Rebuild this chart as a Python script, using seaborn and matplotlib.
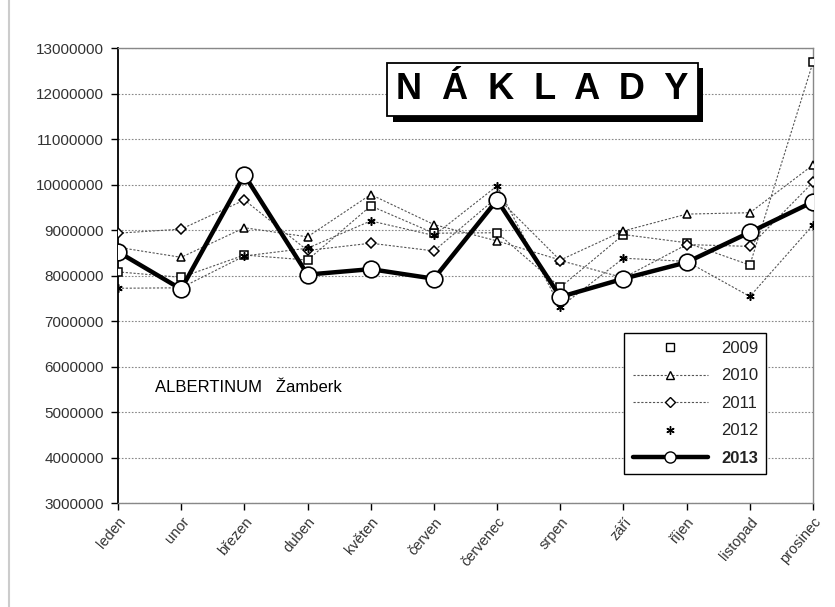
import numpy as np
import pandas as pd
import seaborn as sns
import matplotlib.pyplot as plt
import matplotlib.patheffects as pe
from matplotlib.lines import Line2D

# data
months = ["leden", "unor", "březen", "duben", "květen", "červen",
          "červenec", "srpen", "září", "říjen", "listopad", "prosinec"]
costs_2009 = [8080000, 7960000, 8450000, 8340000, 9530000, 8930000,
              8940000, 7740000, 8900000, 8720000, 8230000, 12690000]
costs_2010 = [8620000, 8400000, 9050000, 8850000, 9780000, 9120000,
              8760000, 8340000, 8980000, 9350000, 9380000, 10430000]
costs_2011 = [8930000, 9020000, 9660000, 8550000, 8710000, 8540000,
              9720000, 8330000, 7950000, 8680000, 8640000, 10050000]
costs_2012 = [7720000, 7730000, 8430000, 8600000, 9200000, 8880000,
              9970000, 7310000, 8380000, 8310000, 7540000, 9110000]
costs_2013 = [8520000, 7700000, 10210000, 8020000, 8140000, 7930000,
              9660000, 7530000, 7930000, 8290000, 8950000, 9620000]
years = ["2009", "2010", "2011", "2012", "2013"]
yticks = list(range(3000000, 13000001, 1000000))

sns.set_theme(style="white")
plt.rcParams['font.family'] = ['Liberation Sans', 'DejaVu Sans']

fig = plt.figure(figsize=(8.35, 6.07), dpi=100)
ax = fig.add_axes([0.1413, 0.1713, 0.8324, 0.7496])

series = {"2009": costs_2009, "2010": costs_2010, "2011": costs_2011,
          "2012": costs_2012, "2013": costs_2013}
markers = {"2009": "s", "2010": "^", "2011": "D", "2012": (6, 2, 0), "2013": "o"}
thin_dash = (0, (2, 1.5))

# older years: thin dotted grey lines with small hollow markers
for yr in years[:4]:
    df = pd.DataFrame({"month": months, "value": series[yr]})
    sz = 6 if yr != "2011" else 5
    sns.lineplot(data=df, x="month", y="value", sort=False, ax=ax,
                 color="#555555", linewidth=0.8, linestyle=thin_dash,
                 marker=markers[yr], markersize=sz, markerfacecolor="white",
                 markeredgecolor="black", markeredgewidth=1.1, zorder=3)

# 2013: thick black line with big circles
df13 = pd.DataFrame({"month": months, "value": costs_2013})
sns.lineplot(data=df13, x="month", y="value", sort=False, ax=ax,
             color="black", linewidth=3.2, marker="o", markersize=12,
             markerfacecolor="white", markeredgecolor="black",
             markeredgewidth=1.2, zorder=5)

ax.set_xlim(0, len(months) - 1)
ax.set_ylim(3000000, 13000000)
ax.set_yticks(yticks)
ax.set_yticklabels([str(v) for v in yticks], fontsize=11, color="#333333")
ax.set_xticks(range(len(months)))
ax.set_xticklabels(months, rotation=50, ha="right", rotation_mode="anchor",
                   fontsize=10.5, color="#333333")
ax.set_xlabel("")
ax.set_ylabel("")
ax.tick_params(axis="both", which="major", direction="out", length=5,
               width=1, color="black", left=True, bottom=True)
ax.tick_params(axis="y", pad=5)
ax.grid(axis="y", color="#888888", linestyle=(0, (1.5, 1.5)), linewidth=0.8)
ax.set_axisbelow(True)
for side in ["top", "right", "bottom"]:
    ax.spines[side].set_color("#888888")
    ax.spines[side].set_linewidth(1)
ax.spines["left"].set_color("black")
ax.spines["left"].set_linewidth(1.3)

# title box with drop shadow
title = "N  Á  K  L  A  D  Y"
t = ax.text(0.611, 0.909, title, transform=ax.transAxes, ha="center", va="center",
            fontsize=26, fontweight="bold", color="black", zorder=7,
            bbox=dict(boxstyle="square,pad=0.25", fc="white", ec="black", lw=1.3))
t.get_bbox_patch().set_path_effects([
    pe.SimplePatchShadow(offset=(4, -4), shadow_rgbFace="black", alpha=1),
    pe.Normal()])

ax.text(0.053, 0.253, "ALBERTINUM   Žamberk", transform=ax.transAxes,
        fontsize=12, color="black", ha="left", va="center")

handles = [
    Line2D([], [], linestyle="none", marker="s", markersize=6,
           markerfacecolor="white", markeredgecolor="black"),
    Line2D([], [], color="#555555", linewidth=0.8, linestyle=thin_dash,
           marker="^", markersize=6, markerfacecolor="white", markeredgecolor="black"),
    Line2D([], [], color="#555555", linewidth=0.8, linestyle=thin_dash,
           marker="D", markersize=5, markerfacecolor="white", markeredgecolor="black"),
    Line2D([], [], linestyle="none", marker=(6, 2, 0), markersize=6,
           markeredgecolor="black"),
    Line2D([], [], color="black", linewidth=3.2, marker="o", markersize=8,
           markerfacecolor="white", markeredgecolor="black"),
]
leg = ax.legend(handles, years, loc="lower right", bbox_to_anchor=(0.945, 0.045),
                frameon=True, fancybox=False, fontsize=12, handlelength=4.5,
                labelspacing=0.75, borderpad=0.5, framealpha=1)
leg.get_frame().set_edgecolor("black")
leg.get_frame().set_linewidth(1)
for txt in leg.get_texts():
    txt.set_color("#222222")
leg.get_texts()[-1].set_fontweight("bold")

fig.add_artist(Line2D([0.011, 0.011], [0, 1], transform=fig.transFigure,
                      color="#cccccc", linewidth=1.5))

fig.savefig("out.png", dpi=100)
